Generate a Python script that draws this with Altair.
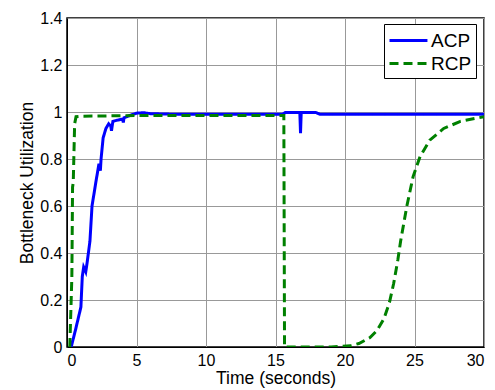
import altair as alt
import pandas as pd

acp_t = [0.3, 0.6, 1.0, 1.1, 1.2, 1.35, 1.45, 1.65, 1.8, 2.1, 2.3, 2.4, 2.45, 2.6, 2.8, 3.0, 3.15, 3.2, 3.3, 3.6, 4.0, 4.05, 4.1, 4.5, 5.0, 5.5, 6.0, 8.0, 10.0, 12.0, 14.0, 15.5, 15.7, 16.75, 16.8, 16.85, 17.9, 18.2, 30.0]
acp_u = [0.0, 0.07, 0.17, 0.30, 0.34, 0.32, 0.36, 0.45, 0.60, 0.71, 0.78, 0.75, 0.80, 0.89, 0.93, 0.95, 0.94, 0.92, 0.96, 0.965, 0.97, 0.955, 0.975, 0.985, 0.995, 0.997, 0.993, 0.99, 0.99, 0.99, 0.99, 0.99, 0.998, 0.998, 0.91, 0.998, 0.998, 0.99, 0.99]

rcp_t = [0.2, 0.35, 0.4, 0.45, 0.55, 0.65, 1.0, 5.0, 10.0, 15.6, 15.65, 19.0, 20.4, 21.0, 21.8, 22.3, 22.8, 23.2, 23.5, 23.8, 24.0, 24.45, 24.9, 25.4, 26.1, 27.1, 28.3, 30.0]
rcp_u = [0.0, 0.3, 0.68, 0.70, 0.95, 0.98, 0.982, 0.985, 0.985, 0.985, 0.0, 0.0, 0.005, 0.015, 0.04, 0.07, 0.12, 0.19, 0.27, 0.37, 0.45, 0.60, 0.725, 0.81, 0.88, 0.93, 0.96, 0.98]

series = ["ACP", "RCP"]
x_ticks = [0, 5, 10, 15, 20, 25, 30]
y_ticks = [0, 0.2, 0.4, 0.6, 0.8, 1.0, 1.2, 1.4]

rows = []
for i, (t, u) in enumerate(zip(acp_t, acp_u)):
    rows.append({"t": t, "u": u, "s": "ACP", "o": i})
for i, (t, u) in enumerate(zip(rcp_t, rcp_u)):
    rows.append({"t": t, "u": u, "s": "RCP", "o": i})
df = pd.DataFrame(rows)

FONT = "Liberation Sans"


def legend():
    return alt.Legend(title=None, orient="none", legendX=317, legendY=6,
                      symbolType="M-1,0H2.45", symbolSize=484, symbolStrokeWidth=3,
                      labelFontSize=19, labelFont=FONT, labelColor="black",
                      fillColor="white", strokeColor="black", padding=4,
                      rowPadding=0, labelOffset=18, cornerRadius=0)


chart = alt.Chart(df).mark_line(strokeWidth=3, clip=True).encode(
    x=alt.X("t:Q", scale=alt.Scale(domain=[0, 30], nice=False),
            axis=alt.Axis(values=x_ticks, title="Time (seconds)", format="~g")),
    y=alt.Y("u:Q", scale=alt.Scale(domain=[0, 1.4], nice=False),
            axis=alt.Axis(values=y_ticks, title="Bottleneck Utilization", format="~g")),
    color=alt.Color("s:N", scale=alt.Scale(domain=series, range=["#0000ff", "#008000"]),
                    legend=legend()),
    strokeDash=alt.StrokeDash("s:N", scale=alt.Scale(domain=series, range=[[1, 0], [9, 5]]),
                              legend=legend()),
    order="o:Q",
).properties(
    width=417, height=329,
    background="white",
    autosize=alt.AutoSizeParams(type="none"),
    padding={"left": 67, "top": 18, "right": 11, "bottom": 43},
).configure_view(
    stroke="black", strokeWidth=1.5
).configure_axis(
    labelFont=FONT, titleFont=FONT, labelFontSize=16, titleFontSize=17.5,
    labelColor="black", titleColor="black", titleFontWeight="normal",
    gridColor="#999999", gridOpacity=1, gridWidth=1,
    domainColor="black", tickColor="black", tickSize=0, labelPadding=5,
).configure_axisY(
    titlePadding=3
).configure_axisX(
    titlePadding=1
)

chart.save("out.html", embed_options={"renderer": "svg", "actions": False})
